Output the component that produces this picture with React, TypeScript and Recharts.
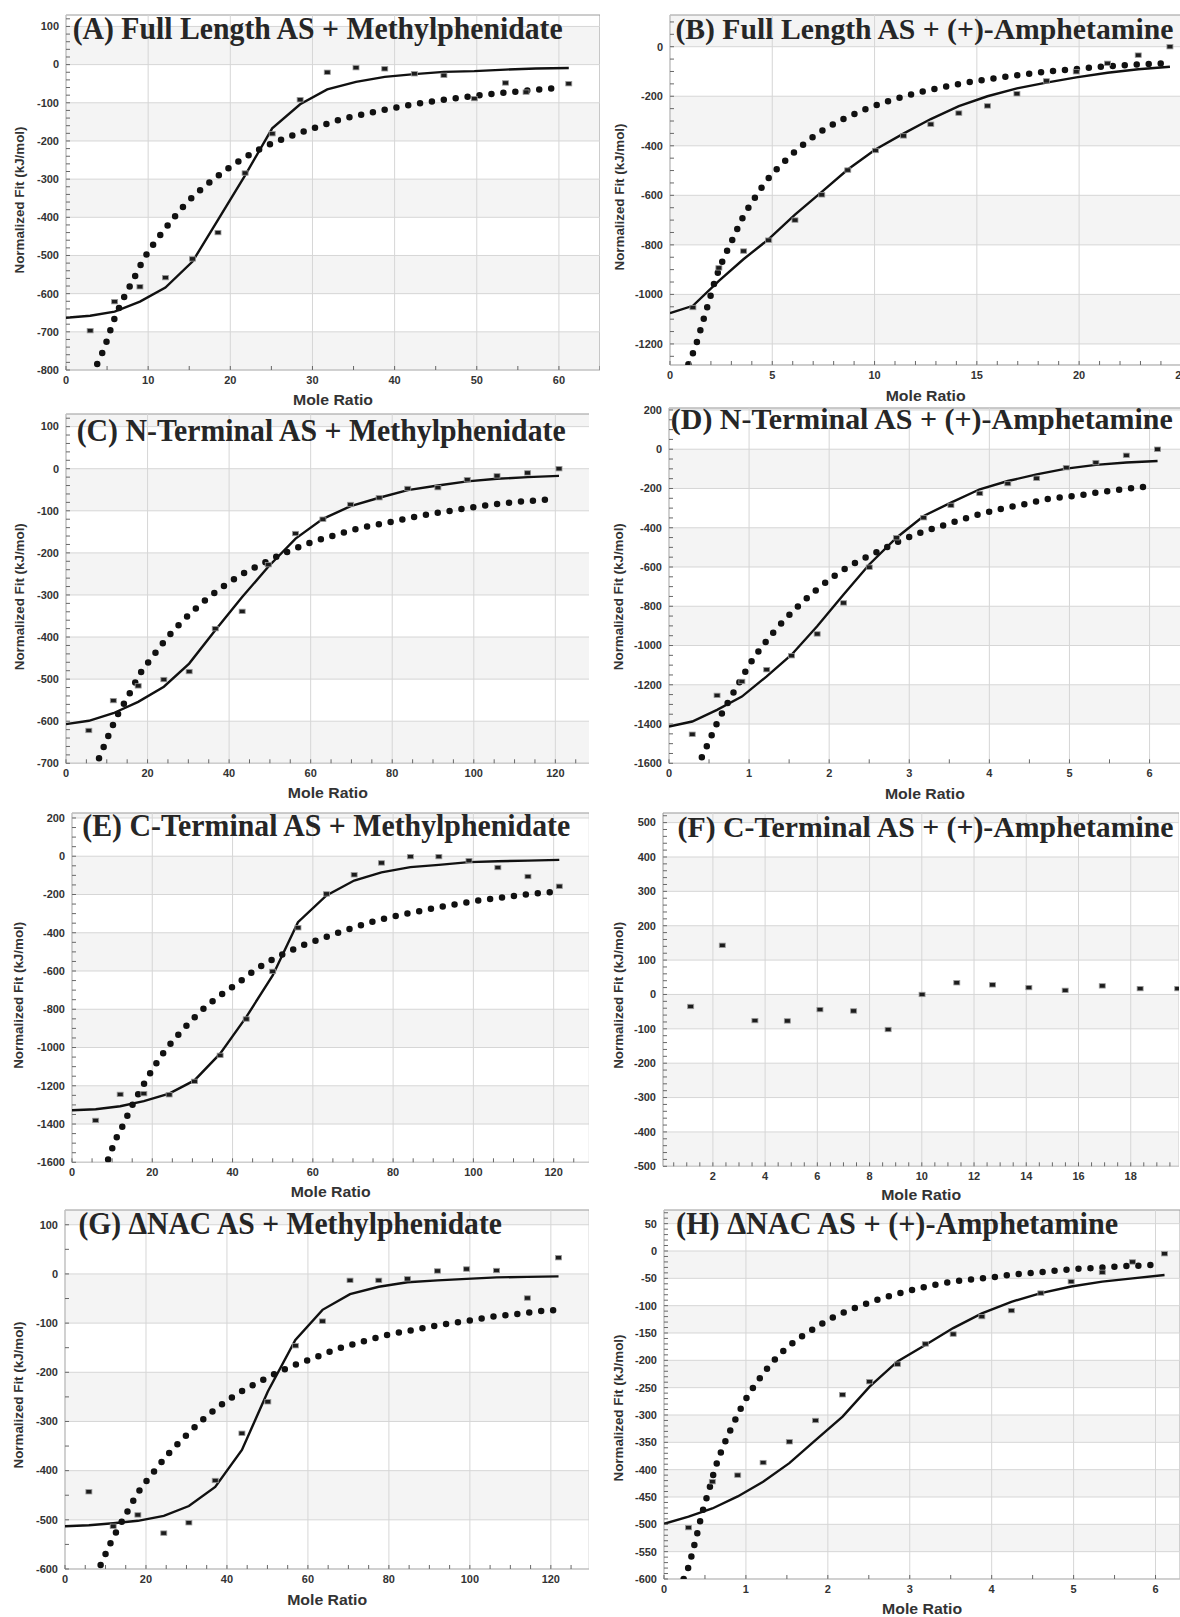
import React from "react";
import { ComposedChart, Line, Scatter, XAxis, YAxis, ReferenceArea, ReferenceLine } from "recharts";

type XY = [number, number];

// (A) Full Length AS + Methylphenidate
const aSquares: XY[] = [[2.94,-697],[5.92,-621],[9.0,-582],[12.1,-558],[15.4,-509],[18.5,-440],[21.8,-284],[25.1,-181],[28.5,-92],[31.8,-20],[35.3,-8],[38.8,-11],[42.4,-24],[46.0,-28],[49.7,-89],[53.5,-48],[56.0,-72],[61.2,-50]];
const aFit: XY[] = [[0,-663],[2.94,-658],[5.92,-647],[9.0,-621],[12.1,-584],[15.4,-516],[18.5,-407],[21.8,-290],[25.1,-167],[28.5,-104],[31.8,-65],[35.3,-45],[38.8,-32],[42.4,-25],[46.0,-19],[49.7,-17],[53.5,-13],[57.2,-10],[61.2,-9]];
const aDots: XY[] = [[3.8,-784],[4.4,-756],[4.9,-728],[5.8,-671],[6.9,-617],[8.2,-563],[9.5,-508],[11.1,-457],[12.9,-407],[14.8,-360],[17.0,-317],[19.4,-277],[22.0,-240],[24.8,-209],[27.8,-184],[30.9,-161],[33.9,-141],[37.1,-126],[40.3,-112],[43.5,-100],[46.7,-90],[50.0,-81],[53.2,-74],[56.5,-67],[59.9,-61]];

// (B) Full Length AS + (+)-Amphetamine
const bSquares: XY[] = [[1.12,-1053],[2.39,-893],[3.6,-825],[4.82,-781],[6.11,-700],[7.42,-598],[8.69,-498],[10.04,-419],[11.41,-360],[12.75,-313],[14.12,-268],[15.52,-239],[16.96,-190],[18.4,-138],[19.86,-101],[21.39,-67],[22.89,-34],[24.44,0]];
const bFit: XY[] = [[0,-1076],[1.12,-1046],[2.39,-945],[3.59,-858],[4.81,-778],[6.11,-678],[7.42,-586],[8.69,-496],[10.04,-415],[11.41,-351],[12.75,-292],[14.12,-240],[15.52,-200],[16.96,-168],[18.4,-145],[19.86,-124],[21.39,-105],[22.89,-91],[24.44,-81]];
const bDots: XY[] = [[0.90,-1282],[1.28,-1201],[1.59,-1115],[1.91,-1027],[2.22,-940],[2.62,-855],[3.08,-774],[3.55,-691],[4.14,-611],[4.79,-534],[5.56,-466],[6.44,-400],[7.44,-339],[8.48,-292],[9.60,-251],[10.78,-217],[12.0,-188],[13.26,-165],[14.5,-145],[15.74,-129],[17.03,-115],[18.31,-102],[19.6,-92],[21.2,-80],[22.8,-72],[24.2,-67]];

// (C) N-Terminal AS + Methylphenidate
const cSquares: XY[] = [[5.6,-622],[11.6,-551],[17.7,-516],[24.0,-501],[30.2,-482],[36.6,-380],[43.2,-339],[49.6,-228],[56.3,-154],[63.0,-120],[69.8,-85],[76.8,-69],[83.8,-47],[91.2,-45],[98.4,-26],[105.7,-17],[113.2,-10],[120.9,0]];
const cFit: XY[] = [[0,-607],[5.6,-599],[11.6,-581],[17.7,-554],[24.0,-518],[30.2,-463],[36.6,-384],[43.2,-305],[49.6,-233],[56.3,-166],[63.0,-119],[69.8,-89],[76.8,-69],[83.8,-51],[91.2,-40],[98.4,-30],[105.7,-24],[113.2,-20],[120.9,-17]];
const cDots: XY[] = [[8.1,-688],[10.3,-637],[12.5,-588],[15.3,-540],[17.8,-493],[21.2,-447],[24.7,-403],[28.7,-361],[33.0,-322],[37.7,-286],[42.8,-253],[48.3,-225],[53.9,-199],[59.9,-176],[66.0,-158],[72.1,-141],[78.4,-129],[84.7,-116],[91.1,-105],[97.6,-95],[104.0,-86],[110.6,-79],[117.2,-74],[120.0,-71]];

// (D) N-Terminal AS + (+)-Amphetamine
const dSquares: XY[] = [[0.29,-1452],[0.60,-1254],[0.91,-1183],[1.22,-1123],[1.53,-1052],[1.85,-941],[2.18,-783],[2.50,-601],[2.84,-451],[3.18,-349],[3.52,-286],[3.88,-225],[4.23,-175],[4.59,-148],[4.96,-94],[5.33,-68],[5.71,-31],[6.10,0]];
const dFit: XY[] = [[0,-1413],[0.29,-1387],[0.60,-1328],[0.91,-1260],[1.22,-1157],[1.53,-1047],[1.85,-902],[2.18,-740],[2.50,-587],[2.84,-451],[3.18,-340],[3.52,-272],[3.88,-204],[4.23,-162],[4.59,-128],[4.96,-99],[5.33,-80],[5.71,-68],[6.10,-60]];
const dDots: XY[] = [[0.41,-1569],[0.47,-1515],[0.53,-1460],[0.59,-1404],[0.72,-1302],[0.86,-1200],[1.01,-1094],[1.18,-996],[1.37,-902],[1.58,-812],[1.81,-727],[2.05,-650],[2.31,-582],[2.60,-523],[2.88,-468],[3.18,-420],[3.49,-380],[3.80,-340],[4.12,-306],[4.43,-281],[4.75,-252],[5.07,-238],[5.39,-218],[5.73,-201],[6.04,-187]];

// (E) C-Terminal AS + Methylphenidate
const eSquares: XY[] = [[5.9,-1381],[12.0,-1245],[17.9,-1241],[24.2,-1247],[30.5,-1177],[36.9,-1041],[43.4,-851],[50.0,-602],[56.3,-374],[63.4,-197],[70.3,-97],[77.1,-35],[84.3,-2],[91.4,-2],[98.9,-23],[106.1,-59],[113.6,-106],[121.4,-157]];
const eFit: XY[] = [[0,-1328],[5.9,-1323],[12.0,-1307],[17.9,-1280],[24.2,-1241],[30.5,-1172],[36.9,-1032],[43.4,-841],[50.0,-623],[56.3,-345],[63.4,-205],[70.3,-127],[77.1,-84],[84.3,-57],[91.4,-45],[98.9,-31],[106.1,-26],[113.6,-23],[121.4,-19]];
const eDots: XY[] = [[9.0,-1586],[10.0,-1529],[11.1,-1471],[12.4,-1419],[14.8,-1311],[17.5,-1206],[20.4,-1102],[23.7,-1002],[27.5,-910],[31.6,-820],[36.1,-740],[41.0,-668],[46.1,-588],[51.9,-519],[57.4,-467],[63.6,-420],[69.8,-376],[76.0,-336],[82.2,-306],[88.5,-279],[94.8,-254],[101.2,-232],[107.7,-214],[114.3,-197],[121.3,-185]];

// (F) C-Terminal AS + (+)-Amphetamine
const fSquares: XY[] = [[1.15,-35],[2.36,143],[3.61,-76],[4.85,-77],[6.10,-44],[7.39,-48],[8.71,-102],[10.01,0],[11.34,34],[12.71,28],[14.10,20],[15.49,12],[16.91,25],[18.36,17],[19.80,17]];

// (G) ΔNAC AS + Methylphenidate
const gSquares: XY[] = [[5.9,-443],[11.9,-513],[18.0,-490],[24.4,-527],[30.6,-506],[37.1,-420],[43.7,-324],[50.1,-260],[56.9,-146],[63.6,-96],[70.4,-13],[77.5,-13],[84.6,-10],[92.0,6],[99.2,10],[106.6,7],[114.2,-49],[121.9,33]];
const gFit: XY[] = [[0,-513],[5.9,-511],[11.9,-507],[18.0,-502],[24.4,-492],[30.6,-472],[37.1,-433],[43.7,-358],[50.1,-239],[56.9,-134],[63.6,-73],[70.4,-41],[77.5,-26],[84.6,-17],[92.0,-13],[99.2,-10],[106.6,-7],[114.2,-6],[121.9,-5]];
const gDots: XY[] = [[8.8,-592],[10.0,-570],[11.2,-548],[12.5,-527],[15.3,-485],[18.1,-444],[21.7,-405],[25.3,-368],[29.5,-332],[33.8,-298],[38.6,-266],[43.8,-238],[49.3,-214],[55.0,-191],[61.2,-172],[67.1,-153],[73.3,-138],[79.6,-124],[86.0,-114],[92.4,-104],[99.1,-96],[105.6,-87],[112.0,-81],[118.4,-75],[121.6,-73]];

// (H) ΔNAC AS + (+)-Amphetamine
const hSquares: XY[] = [[0.30,-506],[0.59,-422],[0.90,-410],[1.21,-387],[1.53,-349],[1.85,-310],[2.18,-263],[2.51,-239],[2.85,-207],[3.19,-170],[3.53,-152],[3.88,-120],[4.24,-109],[4.60,-77],[4.97,-56],[5.35,-39],[5.72,-20],[6.11,-5]];
const hFit: XY[] = [[0,-499],[0.30,-486],[0.59,-471],[0.90,-449],[1.21,-422],[1.53,-388],[1.85,-346],[2.18,-303],[2.51,-248],[2.85,-202],[3.19,-172],[3.53,-141],[3.88,-114],[4.24,-93],[4.60,-77],[4.97,-65],[5.35,-56],[5.72,-50],[6.11,-44]];
const hDots: XY[] = [[0.24,-600],[0.29,-582],[0.33,-561],[0.40,-520],[0.47,-477],[0.55,-437],[0.63,-395],[0.73,-355],[0.85,-315],[0.98,-276],[1.14,-239],[1.32,-204],[1.54,-172],[1.80,-145],[2.07,-121],[2.37,-102],[2.67,-86],[2.99,-73],[3.30,-62],[3.63,-54],[3.95,-49],[4.27,-43],[4.59,-39],[4.93,-34],[5.26,-31],[5.58,-28],[5.91,-26],[6.08,-24]];

// tick labels
const ticks0to60 = [0, 10, 20, 30, 40, 50, 60];
const ticks0to25 = [0, 5, 10, 15, 20, 25];
const ticks0to120 = [0, 20, 40, 60, 80, 100, 120];
const ticks0to6 = [0, 1, 2, 3, 4, 5, 6];
const ticks2to18 = [2, 4, 6, 8, 10, 12, 14, 16, 18];
const yA = [100, 0, -100, -200, -300, -400, -500, -600, -700, -800];
const yB = [0, -200, -400, -600, -800, -1000, -1200];
const yC = [100, 0, -100, -200, -300, -400, -500, -600, -700];
const yD = [200, 0, -200, -400, -600, -800, -1000, -1200, -1400, -1600];
const yE = [200, 0, -200, -400, -600, -800, -1000, -1200, -1400, -1600];
const yF = [500, 400, 300, 200, 100, 0, -100, -200, -300, -400, -500];
const yG = [100, 0, -100, -200, -300, -400, -500, -600];
const yH = [50, 0, -50, -100, -150, -200, -250, -300, -350, -400, -450, -500, -550, -600];

interface Panel {
  title: string;
  squares: XY[];
  fit?: XY[];
  dots?: XY[];
  xDomain: [number, number];
  yDomain: [number, number];
  xTicks: number[];
  yTicks: number[];
  xMinor: number;
  yMinor: number;
  // plot box on the page
  left: number; top: number; right: number; bottom: number;
  titleX: number; titleY: number; titleW: number; titleSize: number;
  yTitleX: number; yTitleY: number; xTitleY: number;
  grayFirst: boolean;
}

const panels: Panel[] = [
  { title: "(A) Full Length AS + Methylphenidate", squares: aSquares, fit: aFit, dots: aDots,
    xDomain: [0, 65], yDomain: [-800, 130], xTicks: ticks0to60, yTicks: yA, xMinor: 5, yMinor: 20,
    left: 66, top: 15, right: 600, bottom: 370, titleX: 72.7, titleY: 38.5, titleW: 490, titleSize: 31,
    yTitleX: 19, yTitleY: 200, xTitleY: 400, grayFirst: false },
  { title: "(B) Full Length AS + (+)-Amphetamine", squares: bSquares, fit: bFit, dots: bDots,
    xDomain: [0, 25], yDomain: [-1285, 128], xTicks: ticks0to25, yTicks: yB, xMinor: 1, yMinor: 50,
    left: 669.6, top: 15, right: 1181, bottom: 365, titleX: 675, titleY: 39, titleW: 498, titleSize: 29.5,
    yTitleX: 618.7, yTitleY: 197, xTitleY: 396, grayFirst: true },
  { title: "(C) N-Terminal AS + Methylphenidate", squares: cSquares, fit: cFit, dots: cDots,
    xDomain: [0, 128.4], yDomain: [-700, 130], xTicks: ticks0to120, yTicks: yC, xMinor: 5, yMinor: 20,
    left: 65.8, top: 414, right: 589.4, bottom: 763.3, titleX: 76.5, titleY: 440.7, titleW: 489, titleSize: 31,
    yTitleX: 19, yTitleY: 596.7, xTitleY: 793, grayFirst: true },
  { title: "(D) N-Terminal AS + (+)-Amphetamine", squares: dSquares, fit: dFit, dots: dDots,
    xDomain: [0, 6.39], yDomain: [-1600, 210], xTicks: ticks0to6, yTicks: yD, xMinor: 0.5, yMinor: 50,
    left: 669.2, top: 408, right: 1181, bottom: 763.3, titleX: 671, titleY: 429.5, titleW: 502, titleSize: 29.5,
    yTitleX: 618.7, yTitleY: 596.7, xTitleY: 794.3, grayFirst: true },
  { title: "(E) C-Terminal AS + Methylphenidate", squares: eSquares, fit: eFit, dots: eDots,
    xDomain: [0, 128.9], yDomain: [-1600, 226], xTicks: ticks0to120, yTicks: yE, xMinor: 5, yMinor: 50,
    left: 72, top: 812.7, right: 589.4, bottom: 1162, titleX: 82.3, titleY: 835.5, titleW: 488, titleSize: 31,
    yTitleX: 19, yTitleY: 995, xTitleY: 1191.7, grayFirst: true },
  { title: "(F) C-Terminal AS + (+)-Amphetamine", squares: fSquares,
    xDomain: [0.09, 19.86], yDomain: [-500, 528], xTicks: ticks2to18, yTicks: yF, xMinor: 0.5, yMinor: 20,
    left: 662.7, top: 812.7, right: 1179, bottom: 1166, titleX: 677.3, titleY: 837, titleW: 496, titleSize: 29.5,
    yTitleX: 618.7, yTitleY: 995, xTitleY: 1195, grayFirst: true },
  { title: "(G) \u0394NAC AS + Methylphenidate", squares: gSquares, fit: gFit, dots: gDots,
    xDomain: [0, 129.5], yDomain: [-600, 130], xTicks: ticks0to120, yTicks: yG, xMinor: 5, yMinor: 50,
    left: 65.1, top: 1210, right: 589.4, bottom: 1569, titleX: 78.5, titleY: 1234.5, titleW: 423.5, titleSize: 31,
    yTitleX: 19, yTitleY: 1395, xTitleY: 1600, grayFirst: true },
  { title: "(H) \u0394NAC AS + (+)-Amphetamine", squares: hSquares, fit: hFit, dots: hDots,
    xDomain: [0, 6.3], yDomain: [-600, 75], xTicks: ticks0to6, yTicks: yH, xMinor: 0.5, yMinor: 10,
    left: 663.9, top: 1210, right: 1180, bottom: 1579, titleX: 676, titleY: 1234.5, titleW: 442, titleSize: 31,
    yTitleX: 618.7, yTitleY: 1408, xTitleY: 1609.5, grayFirst: true },
];

const YW = 62;
const XH = 45;
const MT = 12;
const SANS = "'Liberation Sans', Arial, sans-serif";
const SERIF = "'Liberation Serif', 'Times New Roman', serif";
const GRID = "#d6d6d6";

const toPts = (arr: XY[]) => arr.map(([x, y]) => ({ x, y }));

function minorTicks([lo, hi]: [number, number], step: number) {
  const out: number[] = [];
  for (let k = Math.ceil(lo / step - 1e-6); k * step <= hi + 1e-6; k++) out.push(+(k * step).toFixed(3));
  return out;
}

// alternating light bands between the major y ticks, counted from the top
function bands(p: Panel) {
  const edges = [p.yDomain[1], ...p.yTicks.filter((t) => t < p.yDomain[1] && t > p.yDomain[0]), p.yDomain[0]]
    .sort((a, b) => b - a);
  const out: [number, number][] = [];
  for (let i = 0; i < edges.length - 1; i++) {
    if ((i % 2 === 0) === p.grayFirst) out.push([edges[i + 1], edges[i]]);
  }
  return out;
}

const isMajor = (list: number[], v: number) => list.some((t) => Math.abs(t - v) < 1e-6);

const Square = (props: any) => {
  const { cx, cy } = props;
  if (cx == null || cy == null) return null;
  return <rect x={cx - 3} y={cy - 2.2} width={6} height={4.4} fill="#1c1c1c" stroke="#9a9a9a" strokeWidth={0.8} />;
};

function IsoPanel({ p }: { p: Panel }) {
  const ox = p.left - YW;
  const oy = p.top - MT;
  const w = p.right - p.left + YW;
  const plotH = p.bottom - p.top;
  const h = plotH + MT + XH;
  const cxMid = (p.left + p.right) / 2 - ox;
  const plotBottom = MT + plotH;

  const xTick = (props: any) => {
    const { x, y, payload } = props;
    const v = payload.value;
    return (
      <g>
        <line x1={x} x2={x} y1={plotBottom} y2={plotBottom - 4} stroke="#666" />
        {isMajor(p.xTicks, v) && (
          <text x={x} y={y} dy="0.71em" textAnchor="middle" fill="#333" fontSize={11} fontWeight={700} fontFamily={SANS}>
            {v}
          </text>
        )}
      </g>
    );
  };

  const yTick = (props: any) => {
    const { x, y, payload } = props;
    const v = payload.value;
    return (
      <g>
        <line x1={YW} x2={YW + 4} y1={y} y2={y} stroke="#666" />
        {isMajor(p.yTicks, v) && (
          <text x={x} y={y} dy="0.35em" textAnchor="end" fill="#333" fontSize={11} fontWeight={700} fontFamily={SANS}>
            {v}
          </text>
        )}
      </g>
    );
  };

  return (
    <div style={{ position: "absolute", left: ox, top: oy }}>
      <ComposedChart width={w} height={h} margin={{ top: MT, right: 0, bottom: 0, left: 0 }}>
        {bands(p).map(([lo, hi]) => (
          <ReferenceArea key={`b${hi}`} x1={p.xDomain[0]} x2={p.xDomain[1]} y1={lo} y2={hi}
            fill="#000" fillOpacity={0.045} stroke="none" />
        ))}
        <ReferenceArea
          x1={p.xDomain[0]}
          x2={p.xDomain[1]}
          y1={p.yDomain[0]}
          y2={p.yDomain[1]}
          fill="none"
          stroke="#9a9a9a"
          strokeWidth={1}
        />
        {p.xTicks.map((t) => (
          <ReferenceLine key={`gx${t}`} x={t} stroke={GRID} strokeWidth={1} />
        ))}
        {p.yTicks.map((t) => (
          <ReferenceLine key={`gy${t}`} y={t} stroke={GRID} strokeWidth={1} />
        ))}
        <ReferenceLine
          y={p.yDomain[1]}
          stroke="none"
          label={{
            content: () => (
              <text x={p.titleX - ox} y={p.titleY - oy} fontFamily={SERIF} fontWeight={700} fontSize={p.titleSize}
                fill="#262626" textLength={p.titleW} lengthAdjust="spacingAndGlyphs">
                {p.title}
              </text>
            ),
          }}
        />
        <XAxis
          type="number"
          dataKey="x"
          domain={p.xDomain}
          ticks={minorTicks(p.xDomain, p.xMinor)}
          allowDataOverflow
          interval={0}
          height={XH}
          axisLine={false}
          tickLine={false}
          tickSize={6}
          tickMargin={0}
          tick={xTick}
          label={{
            content: () => (
              <text x={cxMid} y={p.xTitleY - oy + 5} textAnchor="middle" fontFamily={SANS} fontWeight={700}
                fontSize={14} fill="#333" textLength={80} lengthAdjust="spacingAndGlyphs">
                Mole Ratio
              </text>
            ),
          }}
        />
        <YAxis
          type="number"
          dataKey="y"
          domain={p.yDomain}
          ticks={minorTicks(p.yDomain, p.yMinor)}
          allowDataOverflow
          interval={0}
          width={YW}
          axisLine={false}
          tickLine={false}
          tickSize={6}
          tickMargin={1}
          tick={yTick}
          label={{
            content: () => {
              const tx = p.yTitleX - ox;
              const ty = p.yTitleY - oy;
              return (
                <text x={tx} y={ty} transform={`rotate(-90 ${tx} ${ty})`} textAnchor="middle"
                  dominantBaseline="central" fontFamily={SANS} fontWeight={700} fontSize={13} fill="#333"
                  textLength={147} lengthAdjust="spacingAndGlyphs">
                  Normalized Fit (kJ/mol)
                </text>
              );
            },
          }}
        />
        {p.fit && (
          <Line data={toPts(p.fit)} dataKey="y" type="linear" stroke="#111" strokeWidth={2.4}
            dot={false} activeDot={false} isAnimationActive={false} />
        )}
        {p.dots && (
          <Line data={toPts(p.dots)} dataKey="y" type="monotone" stroke="#111" strokeWidth={6.5}
            strokeLinecap="round" strokeDasharray="0 12" dot={false} activeDot={false} isAnimationActive={false} />
        )}
        <Scatter data={toPts(p.squares)} dataKey="y" shape={Square} isAnimationActive={false} />
      </ComposedChart>
    </div>
  );
}

export default function App() {
  return (
    <div style={{ position: "absolute", left: 0, top: 0, width: 1180, height: 1617, overflow: "hidden", background: "#fff" }}>
      {panels.map((p) => (
        <IsoPanel key={p.title} p={p} />
      ))}
    </div>
  );
}
